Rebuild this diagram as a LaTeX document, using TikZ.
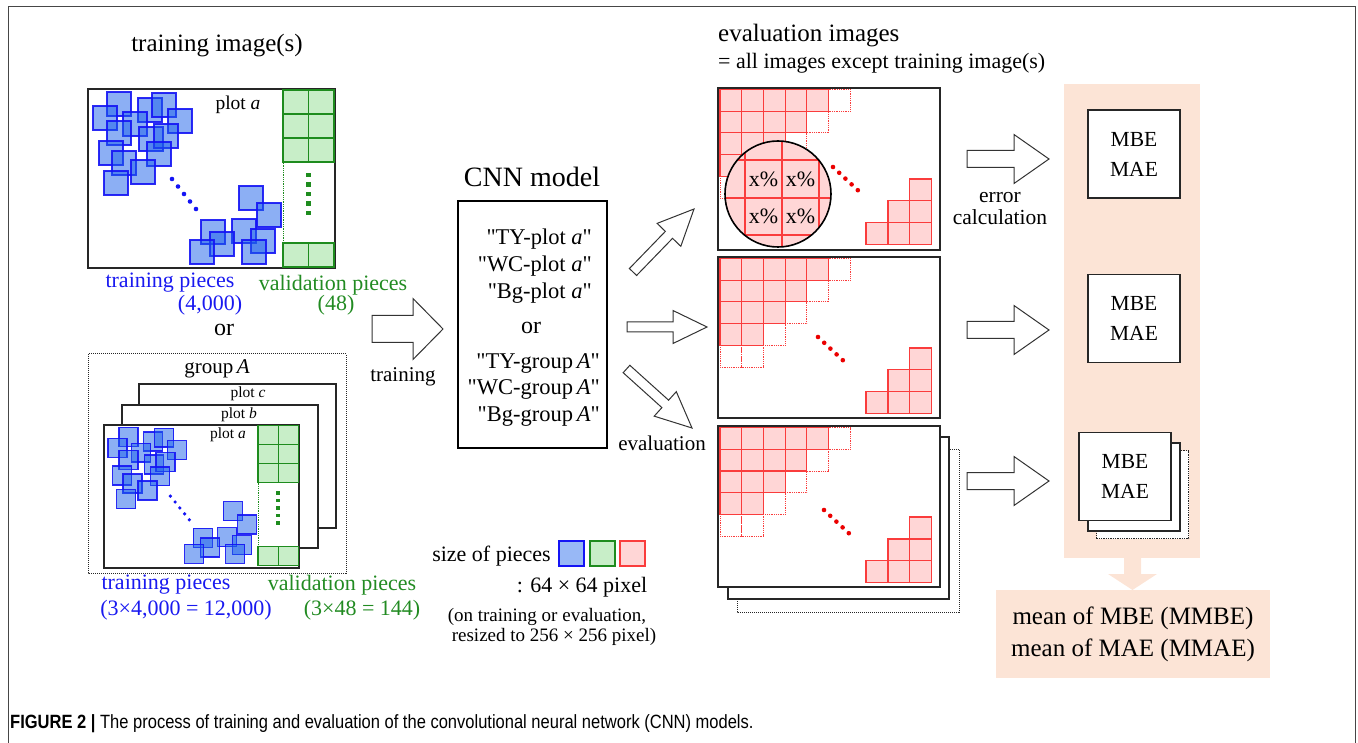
\documentclass[tikz,border=0pt]{standalone}
\usepackage{fontspec}
\setmainfont{Liberation Serif}
\newfontfamily\modelfont{Liberation Serif}
\newfontfamily\capfont{Liberation Sans}[FakeStretch=0.86]
\usetikzlibrary{calc, positioning}

\definecolor{pieceblue}{RGB}{27,97,235}
\definecolor{lineblue}{RGB}{20,20,245}
\definecolor{textblue}{RGB}{25,25,240}
\definecolor{piecegreen}{RGB}{200,238,200}
\definecolor{linegreen}{RGB}{30,140,30}
\definecolor{textgreen}{RGB}{34,139,34}
\definecolor{piecered}{RGB}{255,214,214}
\definecolor{linered}{RGB}{250,60,60}
\definecolor{dotred}{RGB}{235,0,0}
\definecolor{peach}{RGB}{252,228,214}
\definecolor{framegray}{RGB}{70,70,70}

\tikzset{
  bluepiece/.style={draw=lineblue, line width=1.3pt, fill=pieceblue, fill opacity=0.5, draw opacity=0.9},
  greenpiece/.style={draw=linegreen, line width=1.3pt, fill=piecegreen},
  redpiece/.style={draw=linered, line width=1.2pt, fill=piecered},
  emptypiece/.style={draw=linered, line width=0.8pt, densely dotted},
  imgframe/.style={draw=black!85, line width=1.5pt, fill=white},
  blockarrow/.style={draw=black!80, line width=1pt, fill=white, line join=miter},
  txt/.style={inner sep=0pt, font=\fontsize{#1}{#1}\selectfont},
  txt/.default=22,
  modelname/.style={inner sep=0pt, font=\modelfont\fontsize{22.5}{22.5}\selectfont},
  mbebox/.style={draw=black!85, line width=1.3pt, fill=white, minimum width=92pt,
    minimum height=88pt, align=center, font=\fontsize{21.5}{30}\selectfont}
}

% hollow block arrow: tail, tip, half shaft, half head, head length
\newcommand\blockarrow[5]{%
  \coordinate (ba-base) at ($(#2)!#5!(#1)$);
  \draw[blockarrow] ($(#1)!#3!90:(#2)$) -- ($(ba-base)!#3!90:(#2)$)
    -- ($(ba-base)!#4!90:(#2)$) -- (#2) -- ($(ba-base)!#4!-90:(#2)$)
    -- ($(ba-base)!#3!-90:(#2)$) -- ($(#1)!#3!-90:(#2)$) -- cycle;}

% pieces of one training image, origin at its top-left corner
\newcommand\plotpieces{%
  \foreach \r in {0,1,2} \foreach \c in {0,1}
    \draw[greenpiece] ({195+25.5*\c},{1+24*\r}) rectangle ++(25.5,24);
  \foreach \c in {0,1}
    \draw[greenpiece] ({195+25.5*\c},154) rectangle ++(25.5,24);
  \draw[linegreen, densely dotted, line width=0.8pt] (195,0) -- (195,179);
  \foreach \k in {0,...,4}
    \fill[linegreen] (218,{84+9.5*\k}) rectangle ++(4.5,4.5);
  \foreach \px/\py in {19/3, 5/17, 50/9, 64/4, 35/23, 80/20, 19/32, 51/38, 66/35,
      11/52, 59/53, 24/62, 43/71, 16/82, 151/97, 169/114, 113/131, 144/130,
      122/143, 163/140, 102/151, 154/151}
    \draw[bluepiece] (\px,\py) rectangle ++(24,24);
  \foreach \k in {0,...,4}
    \fill[lineblue] ({84+6*\k},{90+7.5*\k}) circle (2.3);
}

% pieces of one evaluation image; #1,#2 start of the dotted run
\newcommand\evalpieces[2]{%
  \foreach \r/\c in {0/5, 1/4, 2/3, 3/2, 4/1, 4/0}
    \draw[emptypiece] ({2+21.7*\c},{1.5+21.7*\r}) rectangle ++(21.7,21.7);
  \foreach \r/\n in {0/5, 1/4, 2/3, 3/2}
    \foreach \c in {1,...,\n}
      \draw[redpiece] ({2+21.7*(\c-1)},{1.5+21.7*\r}) rectangle ++(21.7,21.7);
  \foreach \r/\c in {0/2, 1/1, 1/2, 2/0, 2/1, 2/2}
    \draw[redpiece] ({148+21.9*\c},{91+21.9*\r}) rectangle ++(21.9,21.9);
  \foreach \k in {0,...,4}
    \fill[dotred] ({#1+6.2*\k},{#2+5.8*\k}) circle (2.3);
}

\begin{document}
\begin{tikzpicture}[x=1pt, y=-1pt]
\useasboundingbox (0,0) rectangle (1358,743);

% outer frame
\draw[framegray, line width=1pt] (8,743) -- (8,7) -- (1355,7) -- (1355,743);

% ---- training image of one plot
\node[txt=25] (trainTitle) at (217,46) {training image(s)};
\draw[imgframe] (88,89) rectangle (335,268);
\begin{scope}[shift={(88,89)}]
  \plotpieces
\end{scope}
\node[txt=19.5] (plotA) at (238,105) {plot \textit{a}};
\node[txt, textblue] (trainPieces) at (170,283) {training pieces};
\node[txt, textblue] (trainCount) at (210,305) {(4,000)};
\node[txt, textgreen] (valPieces) at (333,285) {validation pieces};
\node[txt, textgreen] (valCount) at (336,305) {(48)};
\node[txt=24] (orLeft) at (224,330) {or};

% ---- training images of one group
\draw[black!85, line width=1pt, densely dotted] (88,354) rectangle (346,573);
\node[txt=21] (groupA) at (217,369) {group\,\textit{A}};
\draw[imgframe, line width=1.3pt] (139,384) rectangle (336,528);
\draw[imgframe, line width=1.3pt] (122,405) rectangle (318,548);
\draw[imgframe] (104,425) rectangle (299,568);
\begin{scope}[shift={(104,425)}, scale=0.79]
  \plotpieces
\end{scope}
\node[txt=15.5] (plotCg) at (248,394) {plot \textit{c}};
\node[txt=15.5] (plotBg) at (239,415) {plot \textit{b}};
\node[txt=15.5] (plotAg) at (228,435) {plot \textit{a}};
\node[txt, textblue] (grpPieces) at (166,585) {training pieces};
\node[txt, textblue] (grpCount) at (186,610) {(3×4,000 = 12,000)};
\node[txt, textgreen] (grpValPieces) at (342,585) {validation pieces};
\node[txt, textgreen] (grpValCount) at (362,610) {(3×48 = 144)};

% ---- training arrow
\coordinate (trainTail) at (372,329);
\coordinate (trainTip) at (443,329);
\blockarrow{trainTail}{trainTip}{13.5pt}{30.5pt}{30pt}
\node[txt=21] (trainLabel) at (403,377) {training};

% ---- CNN model
\node[draw, line width=2.6pt, minimum width=149pt, minimum height=247pt] (cnn) at (532.5,324.5) {};
\node[txt=28] (cnnTitle) at (532,177) {CNN model};
\foreach \name [count=\i] in {TY, WC, Bg}
  \node[modelname, anchor=base east] (plotModel\i) at (592,{218+27*\i}) {"\name-plot \textit{a}"};
\node[txt=24] (orModel) at (531,328) {or};
\foreach \name [count=\i] in {TY, WC, Bg}
  \node[modelname, anchor=base east] (groupModel\i) at (600,{343+26*\i}) {"\name-group\,\textit{A}"};

% ---- evaluation arrows
\coordinate (evalTailA) at (633,272);
\coordinate (evalTipA) at (694,209);
\coordinate (evalTailB) at (627,327);
\coordinate (evalTipB) at (707,327);
\coordinate (evalTailC) at (626.5,369);
\coordinate (evalTipC) at (692,428);
\blockarrow{evalTailA}{evalTipA}{5pt}{16.5pt}{36pt}
\blockarrow{evalTailB}{evalTipB}{5pt}{16.5pt}{34pt}
\blockarrow{evalTailC}{evalTipC}{5pt}{16.5pt}{36pt}
\node[txt=21] (evalLabel) at (662,443) {evaluation};

% ---- evaluation images
\node[txt=25, anchor=west] (evalTitle) at (718,36) {evaluation images};
\node[txt=22, anchor=west] (evalNote) at (718,63) {= all images except training image(s)};

\draw[imgframe] (718,88) rectangle (940,250);
\begin{scope}[shift={(718,88)}]
  \evalpieces{115}{79}
  \fill[piecered] (60,106) circle (53);
  \begin{scope}
    \clip (60,106) circle (53);
    \foreach \v in {27,64,101}
      \draw[linered, line width=1.2pt] (\v,40) -- (\v,170);
    \foreach \h in {72,110,147}
      \draw[linered, line width=1.2pt] (0,\h) -- (120,\h);
  \end{scope}
  \draw[black, line width=1.6pt] (60,106) circle (53);
  \foreach \cx/\cy in {45.5/91, 82.5/91, 45.5/128, 82.5/128}
    \node[txt] at (\cx,\cy) {x\%};
\end{scope}

\draw[imgframe] (718,257) rectangle (940,418);
\begin{scope}[shift={(718,257)}]
  \evalpieces{100}{80}
\end{scope}

\draw[black!85, line width=1pt, densely dotted, fill=white] (737,449) rectangle (959,612);
\draw[imgframe, line width=1.3pt] (728,437) rectangle (949,599);
\draw[imgframe] (718,426) rectangle (940,587);
\begin{scope}[shift={(718,426)}]
  \evalpieces{106}{84}
\end{scope}

% ---- error calculation
\foreach \y [count=\i] in {159, 330, 481} {
  \coordinate (errTail\i) at (967,\y);
  \coordinate (errTip\i) at (1049,\y);
  \blockarrow{errTail\i}{errTip\i}{8.5pt}{24.5pt}{35pt}
}
\node[txt=21.5, align=center, font=\fontsize{21.5}{22}\selectfont] (errLabel) at (1000,209) {error\\calculation};

% ---- MBE / MAE and their means
\fill[peach] (1064,84) rectangle (1200,558);
\fill[peach] (1124,557) -- (1141,557) -- (1141,574) -- (1157,574) -- (1132.5,590)
  -- (1108,574) -- (1124,574) -- cycle;
\node[mbebox] (errA) at (1134,154) {MBE\\MAE};
\node[mbebox] (errB) at (1134,318.5) {MBE\\MAE};
\node[mbebox, draw=black!85, densely dotted, line width=1pt] (errCback) at (1142.5,494.5) {};
\node[mbebox] (errCmid) at (1134,487) {};
\node[mbebox] (errC) at (1125,476.5) {MBE\\MAE};
\node[fill=peach, minimum width=274pt, minimum height=88pt, align=center,
  font=\fontsize{25}{32}\selectfont] (meanBox) at (1133,634) {mean of MBE (MMBE)\\mean of MAE (MMAE)};

% ---- legend of piece size
\node[txt] (sizeLabel) at (491.5,556) {size of pieces};
\draw[draw=lineblue, line width=1.2pt, fill=pieceblue!45] (559,541) rectangle (584,566);
\draw[greenpiece, line width=1.2pt] (590,541) rectangle (615,566);
\draw[redpiece] (620,541) rectangle (645,566);
\node[txt] (sizeValue) at (582,587) {: 64 × 64 pixel};
\node[txt=19] (sizeNote1) at (547,617) {(on training or evaluation,};
\node[txt=19] (sizeNote2) at (554,637) {resized to 256 × 256 pixel)};

% ---- caption
\node[anchor=base west, inner sep=0pt, font=\capfont\fontsize{19.2}{22}\selectfont] (caption) at (10,728)
  {\textbf{FIGURE 2 |} The process of training and evaluation of the convolutional neural network (CNN) models.};

\end{tikzpicture}
\end{document}
